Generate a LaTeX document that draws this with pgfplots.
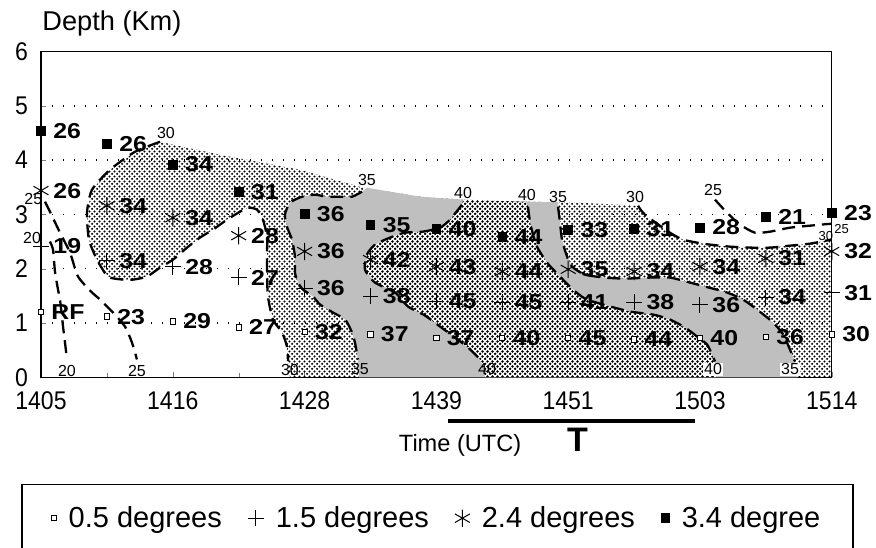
\documentclass[border=0pt]{standalone}
\usepackage{fontspec}
\setmainfont{Liberation Sans}
\newfontfamily\vfont[FakeStretch=1.15]{Liberation Sans}
\newfontfamily\nfont[FakeStretch=0.9]{Liberation Sans}
\usepackage{pgfplots}
\pgfplotsset{compat=1.18}
\usepackage{pgfplotstable}
\usetikzlibrary{patterns}

% stipple patterns
\pgfdeclarepatternformonly{cdots}{\pgfqpoint{0pt}{0pt}}{\pgfqpoint{2.4pt}{2.4pt}}{\pgfqpoint{2.4pt}{2.4pt}}{%
  \pgfpathcircle{\pgfqpoint{0.6pt}{0.6pt}}{0.6pt}%
  \pgfpathcircle{\pgfqpoint{1.8pt}{1.8pt}}{0.6pt}%
  \pgfusepath{fill}}
\pgfdeclarepatternformonly{ddots}{\pgfqpoint{0pt}{0pt}}{\pgfqpoint{2.4pt}{2.4pt}}{\pgfqpoint{2.4pt}{2.4pt}}{%
  \pgfpathcircle{\pgfqpoint{0.6pt}{0.6pt}}{0.72pt}%
  \pgfpathcircle{\pgfqpoint{1.8pt}{1.8pt}}{0.72pt}%
  \pgfusepath{fill}}

% elevation angle scans: x = time slot (0 = 1405 ... 6 = 1514), y = depth km
\pgfplotstableread{
x   y    lab
0   1.21 RF
0.5 1.12 23
1   1.03 29
1.5 0.92 27
2   0.83 32
2.5 0.79 37
3   0.72 37
3.5 0.72 40
4   0.72 45
4.5 0.70 44
5   0.72 40
5.5 0.75 36
6   0.79 30
}\degA
\pgfplotstableread{
x   y    lab
0   2.41 19
0.5 2.15 34
1   2.04 28
1.5 1.84 27
2   1.64 36
2.5 1.49 38
3   1.40 45
3.5 1.38 45
4   1.38 41
4.5 1.38 38
5   1.34 36
5.5 1.47 34
6   1.56 31
}\degB
\pgfplotstableread{
x   y    lab
0   3.44 26
0.5 3.16 34
1   2.94 34
1.5 2.61 28
2   2.32 36
2.5 2.17 42
3   2.04 43
3.5 1.95 44
4   1.99 35
4.5 1.95 34
5   2.04 34
5.5 2.19 31
6   2.32 32
}\degC
\pgfplotstableread{
x   y    lab
0   4.54 26
0.5 4.30 26
1   3.92 34
1.5 3.42 31
2   3.01 36
2.5 2.81 35
3   2.74 40
3.5 2.59 44
4   2.72 33
4.5 2.74 31
5   2.76 28
5.5 2.96 21
6   3.03 23
}\degD

\tikzset{clab/.style={font=\fontsize{8}{8}\selectfont, inner sep=0.5pt}}
\pgfplotsset{
  cont/.style={black, line width=1.15pt, dash pattern=on 6.5pt off 3.5pt, smooth, tension=0.4, mark=none, forget plot},
  vals/.style={only marks, black, nodes near coords, point meta=explicit symbolic,
    every node near coord/.append style={font={\vfont\bfseries\fontsize{10.8}{12}\selectfont},
      anchor=west, inner sep=0pt, xshift=#1}},
}

\begin{document}
\begin{tikzpicture}
\begin{axis}[
  scale only axis, width=395.5pt, height=163pt,
  xmin=0, xmax=6, ymin=0, ymax=6,
  xtick={0,...,6}, xticklabels={1405,1416,1428,1439,1451,1503,1514},
  minor x tick num=1,
  ytick={0,...,6}, yticklabels={0,1,2,3,4,5,6},
  tick pos=left, tick align=inside,
  major tick length=2.5pt, minor tick length=2pt,
  ticklabel style={font=\nfont\fontsize{12.8}{14}\selectfont},
  yticklabel style={xshift=-3pt},
  xticklabel style={yshift=-3.5pt},
  ymajorgrids, grid style={black, line width=0.7pt, dash pattern=on 0.7pt off 4.8pt},
  axis line style={line width=0.7pt},
  clip=false,
  legend style={draw=none, fill=none, at={(0.502,-0.432)}, anchor=center,
    font=\fontsize{14.5}{16}\selectfont, legend columns=4,
    /tikz/every odd column/.append style={column sep=4pt},
    /tikz/every even column/.append style={column sep=11pt}},
]
% 30-35 stipple (area inside the 30 contour)
\addplot[draw=none, pattern=cdots, forget plot] coordinates {
 (0.903,4.338) (1.358,4.099) (1.965,3.824) (2.443,3.493) (2.876,3.327) (3.202,3.272)
 (3.687,3.235) (4.090,3.217) (4.530,3.162) (4.583,2.996) (4.772,2.665) (4.871,2.537)
 (4.977,2.482) (5.076,2.445) (5.228,2.408) (5.380,2.390) (5.531,2.390) (5.683,2.426)
 (5.835,2.463) (6,2.54) (6,0) (1.889,0) (1.874,0.202) (1.866,0.570) (1.829,0.827)
 (1.760,1.066) (1.722,1.489) (1.715,1.930) (1.715,2.298) (1.715,2.592) (1.684,2.904)
 (1.639,3.088) (1.571,3.125) (1.510,3.051) (1.411,2.904) (1.305,2.721) (1.206,2.574)
 (1.108,2.390) (1.002,2.169) (0.903,2.022) (0.804,1.857) (0.698,1.801) (0.622,1.801)
 (0.508,1.857) (0.425,2.169) (0.364,2.537) (0.349,3.033) (0.387,3.456) (0.524,3.824)
 (0.713,4.154)} --cycle;
% 35-40 grey, left
\addplot[draw=none, fill=black!25, forget plot] coordinates {
 (2.473,3.493) (2.436,3.419) (2.360,3.327) (2.284,3.327) (2.170,3.327) (2.079,3.364)
 (1.980,3.327) (1.889,3.217) (1.851,2.996) (1.866,2.776) (1.904,2.537) (1.927,2.224)
 (1.927,1.930) (1.950,1.746) (1.988,1.618) (2.064,1.489) (2.117,1.342) (2.215,1.195)
 (2.307,1.066) (2.360,0.827) (2.382,0.643) (2.405,0.331) (2.41,0) (3.37,0)
 (3.331,0.331) (3.240,0.551) (3.141,0.735) (3.027,0.938) (2.913,1.140) (2.785,1.305)
 (2.686,1.563) (2.534,1.746) (2.458,1.985) (2.473,2.261) (2.534,2.445) (2.648,2.574)
 (2.762,2.665) (2.898,2.684) (3.027,2.757) (3.103,2.904) (3.194,3.180) (3.202,3.272)
 (2.876,3.327)} --cycle;
% 35-40 grey, right
\addplot[draw=none, fill=black!25, forget plot] coordinates {
 (3.687,3.235) (3.695,3.143) (3.710,2.868) (3.733,2.629) (3.763,2.408) (3.839,2.114)
 (3.938,1.857) (4.036,1.618) (4.127,1.452) (4.264,1.342) (4.469,1.213) (4.643,1.158)
 (4.772,1.066) (4.886,0.919) (4.977,0.754) (5.053,0.607) (5.091,0.423) (5.114,0.294)
 (5.12,0) (5.74,0) (5.721,0.294) (5.698,0.423) (5.660,0.643) (5.622,0.827) (5.546,1.029)
 (5.433,1.250) (5.326,1.434) (5.205,1.563) (5.038,1.673) (4.924,1.746) (4.772,1.838)
 (4.621,1.838) (4.431,1.820) (4.279,1.838) (4.127,1.893) (4.029,2.040) (3.991,2.224)
 (3.953,2.537) (3.938,2.849) (3.923,3.143) (3.923,3.225)} --cycle;
% above 40 stipple
\addplot[draw=none, preaction={fill=white}, pattern=ddots, forget plot] coordinates {
 (3.202,3.272) (3.194,3.180) (3.103,2.904) (3.027,2.757) (2.898,2.684) (2.762,2.665)
 (2.648,2.574) (2.534,2.445) (2.473,2.261) (2.458,1.985) (2.534,1.746) (2.686,1.563)
 (2.785,1.305) (2.913,1.140) (3.027,0.938) (3.141,0.735) (3.240,0.551) (3.331,0.331)
 (3.37,0) (5.12,0) (5.114,0.294) (5.091,0.423) (5.053,0.607) (4.977,0.754) (4.886,0.919)
 (4.772,1.066) (4.643,1.158) (4.469,1.213) (4.264,1.342) (4.127,1.452) (4.036,1.618)
 (3.938,1.857) (3.839,2.114) (3.763,2.408) (3.733,2.629) (3.710,2.868) (3.695,3.143)
 (3.687,3.235)} --cycle;

% dashed contours
\addplot[cont] coordinates {
 (0.903,4.338) (0.713,4.154) (0.524,3.824) (0.387,3.456) (0.349,3.033) (0.364,2.537)
 (0.425,2.169) (0.508,1.857) (0.622,1.801) (0.698,1.801) (0.804,1.857) (0.903,2.022)
 (1.002,2.169) (1.108,2.390) (1.206,2.574) (1.305,2.721) (1.411,2.904) (1.510,3.051)
 (1.571,3.125) (1.639,3.088) (1.684,2.904) (1.715,2.592) (1.715,2.298) (1.715,1.930)
 (1.722,1.489) (1.760,1.066) (1.829,0.827) (1.866,0.570) (1.874,0.30)};
\addplot[cont] coordinates {
 (4.530,3.162) (4.583,2.996) (4.772,2.665) (4.871,2.537) (4.977,2.482) (5.076,2.445)
 (5.228,2.408) (5.380,2.390) (5.531,2.390) (5.683,2.426) (5.835,2.463) (6,2.54)};
\addplot[cont] coordinates {
 (5.114,3.272) (5.205,3.033) (5.304,2.813) (5.417,2.665) (5.531,2.684) (5.683,2.757)
 (5.835,2.794) (6.0,2.831)};
\addplot[cont] coordinates {
 (0.030,3.235) (0.068,3.051) (0.144,2.665) (0.220,2.298) (0.281,1.857) (0.387,1.563)
 (0.448,1.434) (0.546,1.195) (0.637,0.938) (0.690,0.643) (0.728,0.331)};
\addplot[cont] coordinates {
 (0.068,2.5) (0.091,2.353) (0.106,1.949) (0.129,1.618) (0.144,1.434) (0.159,1.121)
 (0.167,0.938) (0.182,0.643) (0.197,0.331)};
\addplot[cont] coordinates {
 (2.436,3.419) (2.360,3.327) (2.284,3.327) (2.170,3.327) (2.079,3.364) (1.980,3.327)
 (1.889,3.217) (1.851,2.996) (1.866,2.776) (1.904,2.537) (1.927,2.224) (1.927,1.930)
 (1.950,1.746) (1.988,1.618) (2.064,1.489) (2.117,1.342) (2.215,1.195) (2.307,1.066)
 (2.360,0.827) (2.382,0.643) (2.405,0.331)};
\addplot[cont] coordinates {
 (3.194,3.180) (3.103,2.904) (3.027,2.757) (2.898,2.684) (2.762,2.665) (2.648,2.574)
 (2.534,2.445) (2.473,2.261) (2.458,1.985) (2.534,1.746) (2.686,1.563) (2.785,1.305)
 (2.913,1.140) (3.027,0.938) (3.141,0.735) (3.240,0.551) (3.331,0.331)};
\addplot[cont] coordinates {
 (3.695,3.143) (3.710,2.868) (3.733,2.629) (3.763,2.408) (3.839,2.114) (3.938,1.857)
 (4.036,1.618) (4.127,1.452) (4.264,1.342) (4.469,1.213) (4.643,1.158) (4.772,1.066)
 (4.886,0.919) (4.977,0.754) (5.053,0.607) (5.091,0.423) (5.114,0.294)};
\addplot[cont] coordinates {
 (3.923,3.143) (3.938,2.849) (3.953,2.537) (3.991,2.224) (4.029,2.040) (4.127,1.893)
 (4.279,1.838) (4.431,1.820) (4.621,1.838) (4.772,1.838) (4.924,1.746) (5.038,1.673)
 (5.205,1.563) (5.326,1.434) (5.433,1.250) (5.546,1.029) (5.622,0.827) (5.660,0.643)
 (5.698,0.423) (5.721,0.294)};

% contour labels
\node[clab] at (axis cs:0.948,4.504) {30};
\node[clab] at (axis cs:-0.058,3.29) {25};
\node[clab] at (axis cs:-0.068,2.57) {20};
\node[clab] at (axis cs:0.197,0.12) {20};
\node[clab] at (axis cs:0.728,0.12) {25};
\node[clab] at (axis cs:1.889,0.13) {30};
\node[clab] at (axis cs:2.42,0.15) {35};
\node[clab] at (axis cs:3.384,0.15) {40};
\node[clab, fill=white] at (axis cs:5.099,0.15) {40};
\node[clab, fill=white] at (axis cs:5.683,0.15) {35};
\node[clab] at (axis cs:2.473,3.64) {35};
\node[clab] at (axis cs:3.202,3.40) {40};
\node[clab] at (axis cs:3.687,3.35) {40};
\node[clab] at (axis cs:3.923,3.33) {35};
\node[clab] at (axis cs:4.507,3.33) {30};
\node[clab] at (axis cs:5.099,3.456) {25};
\node[inner sep=0pt, font=\fontsize{6.5}{6.5}\selectfont] at (axis cs:6.075,2.74) {25};
\node[inner sep=0pt, font=\fontsize{6.5}{6.5}\selectfont] at (axis cs:5.955,2.61) {30};

% scans
\addplot[vals=5pt, mark=square*, mark size=1.3pt, mark options={fill=white, line width=0.5pt}]
  table[x=x, y=y, meta=lab] {\degA};
\addlegendentry{0.5 degrees}
\addplot[vals=6pt, mark=+, mark size=4pt, mark options={line width=0.5pt}]
  table[x=x, y=y, meta=lab] {\degB};
\addlegendentry{1.5 degrees}
\addplot[vals=6pt, mark=asterisk, mark size=4.3pt, mark options={line width=0.5pt}]
  table[x=x, y=y, meta=lab] {\degC};
\addlegendentry{2.4 degrees}
\addplot[vals=6pt, mark=square*, mark size=2.2pt]
  table[x=x, y=y, meta=lab] {\degD};
\addlegendentry{3.4 degree}

% titles and time bar
\node[anchor=base west, inner sep=0pt, font=\fontsize{13.6}{14}\selectfont] at (axis cs:0.008,6.384) {Depth (Km)};
\node[font=\fontsize{11.8}{14}\selectfont] at (axis cs:3.18,-1.25) {Time (UTC)};
\node[font=\bfseries\fontsize{17}{18}\selectfont] at (axis cs:4.07,-1.15) {T};
\draw[line width=2pt] (axis cs:3.088,-0.809) -- (axis cs:4.962,-0.809);
\draw[line width=0.6pt] (axis cs:-0.144,-3.4) rectangle (axis cs:6.161,-1.967);

\coordinate (bbSW) at (axis cs:-0.3111,-3.125);
\coordinate (bbNE) at (axis cs:6.3354,6.9485);
\end{axis}
\pgfresetboundingbox
\path (bbSW) rectangle (bbNE);
\end{tikzpicture}
\end{document}
